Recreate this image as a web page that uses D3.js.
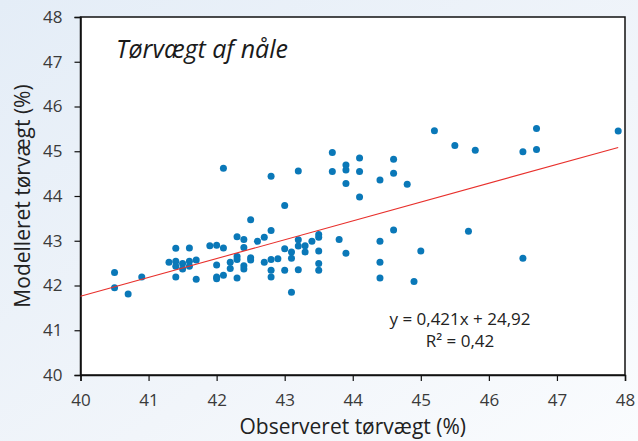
<!DOCTYPE html>
<html>
<head>
<meta charset="utf-8">
<script src="https://cdn.jsdelivr.net/npm/d3@7"></script>
<style>
  body { margin: 0; }
  svg { display: block; }
</style>
</head>
<body>
<div id="chart"></div>
<script>
const obsX = [
  40.5, 40.5, 40.7, 40.9,
  41.4, 41.6, 41.3, 41.4, 41.4, 41.5, 41.5, 41.6, 41.6, 41.7, 41.4, 41.7,
  41.9, 42.0, 42.1, 42.0, 42.0, 42.0, 42.1, 42.2, 42.2,
  42.3, 42.3, 42.3, 42.3, 42.4, 42.4, 42.4, 42.4, 42.5, 42.5, 42.6, 42.7, 42.7,
  42.8, 42.8, 42.9, 43.0, 43.1, 43.1, 43.2, 43.2, 43.3, 43.3, 43.4,
  43.5, 43.5, 43.5, 43.5, 43.5,
  42.8, 42.8, 43.0, 43.2, 43.1,
  43.8, 43.9, 44.4, 44.4, 44.4, 44.6, 45.0, 44.9, 45.7, 46.5,
  42.1, 42.8, 42.5, 43.0, 43.2, 43.7, 43.7, 43.9, 43.9, 43.9,
  44.1, 44.1, 44.1, 44.4, 44.6, 44.6, 44.8, 45.2, 45.5, 45.8,
  46.5, 46.7, 46.7, 47.9
]
const modY = [
  42.29, 41.95, 41.81, 42.19,
  42.83, 42.84, 42.52, 42.54, 42.43, 42.49, 42.37, 42.54, 42.43, 42.57, 42.19, 42.14,
  42.89, 42.90, 42.84, 42.46, 42.19, 42.15, 42.23, 42.52, 42.38,
  43.09, 42.65, 42.58, 42.17, 43.03, 42.85, 42.44, 42.37, 42.62, 42.57, 42.99, 43.08, 42.52,
  43.23, 42.58, 42.60, 42.82, 42.75, 42.61, 43.02, 42.88, 42.89, 42.75, 42.99,
  43.14, 43.08, 42.77, 42.49, 42.34,
  42.34, 42.19, 42.34, 42.35, 41.85,
  43.03, 42.72, 42.99, 42.52, 42.17, 43.24, 42.77, 42.09, 43.21, 42.61,
  44.62, 44.44, 43.47, 43.79, 44.56, 44.97, 44.55, 44.69, 44.58, 44.28,
  44.85, 44.55, 43.98, 44.36, 44.82, 44.51, 44.26, 45.46, 45.13, 45.02,
  44.99, 45.51, 45.04, 45.45
]
const xTicks = [40, 41, 42, 43, 44, 45, 46, 47, 48]
const yTicks = [40, 41, 42, 43, 44, 45, 46, 47, 48]
const slope = 0.421, intercept = 24.92, rSquared = "0,42"
const trendRange = [40, 47.9]

const width = 638, height = 441
const margin = {top: 17, right: 13, bottom: 66, left: 80.5}
const font = "'Open Sans', 'DejaVu Sans', sans-serif"

const svg = d3.select("#chart").append("svg")
  .attr("width", width)
  .attr("height", height)

// soft blue background like the slide
const defs = svg.append("defs")
const grad = defs.append("linearGradient")
  .attr("id", "bg").attr("x1", "0").attr("y1", "0").attr("x2", "1").attr("y2", "1")
grad.append("stop").attr("offset", "0").attr("stop-color", "#e4edf7")
grad.append("stop").attr("offset", "0.6").attr("stop-color", "#f1f5fa")
grad.append("stop").attr("offset", "1").attr("stop-color", "#fafcfe")
svg.append("rect").attr("width", width).attr("height", height).attr("fill", "url(#bg)")

const x = d3.scaleLinear().domain([40, 48]).range([margin.left, width - margin.right])
const y = d3.scaleLinear().domain([40, 48]).range([height - margin.bottom, margin.top])

// plot area
svg.append("rect")
  .attr("x", x(40)).attr("y", y(48))
  .attr("width", x(48) - x(40)).attr("height", y(40) - y(48))
  .attr("fill", "#fff")
  .attr("stroke", "#111")
  .attr("stroke-width", 1.5)

// axes
const xAxis = svg.append("g")
  .attr("transform", "translate(0," + y(40) + ")")
  .call(d3.axisBottom(x).tickValues(xTicks).tickSize(6).tickPadding(13).tickFormat(d3.format("d")))
const yAxis = svg.append("g")
  .attr("transform", "translate(" + x(40) + ",0)")
  .call(d3.axisLeft(y).tickValues(yTicks).tickSize(6).tickPadding(12).tickFormat(d3.format("d")))

;[xAxis, yAxis].forEach(g => {
  g.select(".domain").attr("stroke", "#111").attr("stroke-width", 1.5)
  g.selectAll(".tick line").attr("stroke", "#111").attr("stroke-width", 1.2)
  g.selectAll(".tick text")
    .attr("fill", "#3a3a3a")
    .style("font-family", font)
    .style("font-size", "17px")
})

// points
const points = obsX.map((v, i) => ({x: v, y: modY[i]}))
svg.append("g")
  .selectAll("circle")
  .data(points)
  .enter()
  .append("circle")
    .attr("cx", d => x(d.x))
    .attr("cy", d => y(d.y))
    .attr("r", 3.5)
    .attr("fill", "#0a78b8")

// trend line
svg.append("line")
  .attr("x1", x(trendRange[0])).attr("y1", y(slope * trendRange[0] + intercept))
  .attr("x2", x(trendRange[1])).attr("y2", y(slope * trendRange[1] + intercept))
  .attr("stroke", "#e8302c")
  .attr("stroke-width", 1.1)

// title inside the plot
svg.append("text")
  .attr("x", 116).attr("y", 58)
  .text("Tørvægt af nåle")
  .style("font-family", font)
  .style("font-style", "italic")
  .style("font-size", "25px")
  .attr("fill", "#1a1a1a")

// regression text
const eq = svg.append("text")
  .attr("text-anchor", "middle")
  .style("font-family", font)
  .style("font-size", "17px")
  .attr("fill", "#222")
eq.append("tspan").attr("x", 460).attr("y", 325).text("y = 0,421x + 24,92")
eq.append("tspan").attr("x", 460).attr("y", 347).text("R² = " + rSquared)

// axis titles
svg.append("text")
  .attr("x", (x(40) + x(48)) / 2).attr("y", 434)
  .attr("text-anchor", "middle")
  .text("Observeret tørvægt (%)")
  .style("font-family", font)
  .style("font-size", "21px")
  .attr("fill", "#222")

svg.append("text")
  .attr("transform", "translate(30," + (y(40) + y(48)) / 2 + ") rotate(-90)")
  .attr("text-anchor", "middle")
  .text("Modelleret tørvægt (%)")
  .style("font-family", font)
  .style("font-size", "21px")
  .attr("fill", "#222")
</script>
</body>
</html>
